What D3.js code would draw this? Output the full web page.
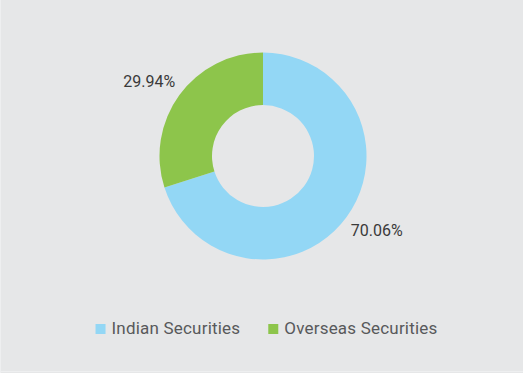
<!DOCTYPE html>
<html>
<head>
<meta charset="utf-8">
<script src="https://cdn.jsdelivr.net/npm/d3@7"></script>
<style>
  body { margin: 0; background: #fff; }
  svg { display: block; font-family: Roboto, "Noto Sans", sans-serif; }
</style>
</head>
<body>
<div id="chart-area"></div>
<script>
const WIDTH = 523
const HEIGHT = 373

// data
const categories = ["Indian Securities", "Overseas Securities"]
const values = [70.06, 29.94]
const colors = ["#93d7f5", "#8dc54b"]

const svg = d3.select("#chart-area").append("svg")
  .attr("width", WIDTH)
  .attr("height", HEIGHT)

// background panel
svg.append("rect")
  .attr("width", WIDTH)
  .attr("height", HEIGHT)
  .attr("fill", "#e6e7e8")
svg.append("line")
  .attr("x1", 0.5).attr("x2", 0.5)
  .attr("y1", 0).attr("y2", HEIGHT)
  .attr("stroke", "#eeeff0")
svg.append("line")
  .attr("x1", 0).attr("x2", WIDTH)
  .attr("y1", HEIGHT - 1.5).attr("y2", HEIGHT - 1.5)
  .attr("stroke", "#eeeff0")

const color = d3.scaleOrdinal()
  .domain(categories)
  .range(colors)

const data = categories.map((c, i) => ({ name: c, value: values[i] }))

const pie = d3.pie()
  .sort(null)
  .value(d => d.value)

const arc = d3.arc()
  .innerRadius(51)
  .outerRadius(103.5)

// labels sit a little behind the slice middle (counter-clockwise)
const labelArc = d3.arc()
  .innerRadius(136)
  .outerRadius(136)
  .startAngle(d => d.startAngle - 0.05)
  .endAngle(d => d.endAngle - 0.05)

const g = svg.append("g")
  .attr("transform", "translate(263, 156)")

const arcs = pie(data)

g.selectAll("path")
  .data(arcs)
  .enter().append("path")
  .attr("d", arc)
  .attr("fill", d => color(d.data.name))

g.selectAll("text.pct")
  .data(arcs)
  .enter().append("text")
  .attr("class", "pct")
  .attr("transform", d => `translate(${labelArc.centroid(d)})`)
  .attr("text-anchor", "middle")
  .attr("dy", "0.35em")
  .attr("font-size", "16px")
  .attr("fill", "#3a3a3a")
  .text(d => d3.format(".2f")(d.data.value) + "%")

// legend
const legend = svg.append("g")
  .attr("transform", "translate(0, 334.3)")

const items = legend.selectAll("g")
  .data(categories)
  .enter().append("g")

items.append("rect")
  .attr("y", -10.3)
  .attr("width", 10)
  .attr("height", 10)
  .attr("fill", d => color(d))

items.append("text")
  .attr("x", 16)
  .attr("font-size", "17px")
  .attr("letter-spacing", "0.2px")
  .attr("fill", "#58595b")
  .text(d => d)

// lay out items side by side, centred
const widths = []
items.each(function() {
  widths.push(this.getBBox().width)
})
const gap = 28
const total = d3.sum(widths) + gap * (widths.length - 1)
let x0 = 266.5 - total / 2
items.attr("transform", (d, i) => {
  const x = x0
  x0 += widths[i] + gap
  return `translate(${x}, 0)`
})
</script>
</body>
</html>
